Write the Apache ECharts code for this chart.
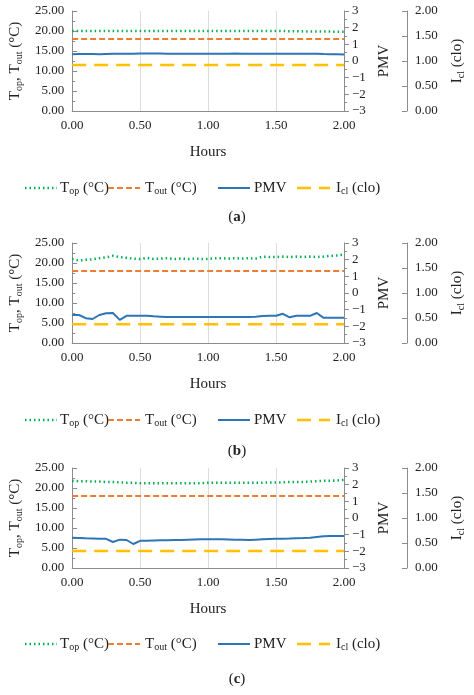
<!DOCTYPE html>
<html><head><meta charset="utf-8">
<script src="https://cdn.jsdelivr.net/npm/echarts@6/dist/echarts.min.js"></script>
<style>html,body{margin:0;background:#fff}#c{width:474px;height:695px}</style>
</head><body><div id="c"></div>
<script>
const hours = [0,0.05,0.1,0.15,0.2,0.25,0.3,0.35,0.4,0.45,0.5,0.55,0.6,0.65,0.7,0.75,0.8,0.85,0.9,0.95,1,1.05,1.1,1.15,1.2,1.25,1.3,1.35,1.4,1.45,1.5,1.55,1.6,1.65,1.7,1.75,1.8,1.85,1.9,1.95,2];
// panel a
const topA  = [20.0,20.0,20.0,20.0,20.0,20.0,20.0,20.0,20.0,20.0,20.0,20.0,20.0,20.0,20.0,20.0,20.0,20.0,20.0,20.0,20.0,20.0,20.0,20.0,20.0,20.0,20.0,20.0,20.0,20.0,20.0,20.0,19.95,19.95,19.9,19.9,19.9,19.85,19.85,19.8,19.8];
const toutA = [18,18,18,18,18,18,18,18,18,18,18,18,18,18,18,18,18,18,18,18,18,18,18,18,18,18,18,18,18,18,18,18,18,18,18,18,18,18,18,18,18];
const pmvA  = [0.41,0.42,0.42,0.42,0.41,0.42,0.43,0.44,0.44,0.44,0.45,0.45,0.45,0.45,0.44,0.44,0.44,0.44,0.44,0.44,0.44,0.44,0.44,0.44,0.45,0.44,0.44,0.44,0.44,0.44,0.44,0.44,0.44,0.44,0.44,0.44,0.44,0.42,0.41,0.40,0.39];
const iclA  = [0.92,0.92,0.92,0.92,0.92,0.92,0.92,0.92,0.92,0.92,0.92,0.92,0.92,0.92,0.92,0.92,0.92,0.92,0.92,0.92,0.92,0.92,0.92,0.92,0.92,0.92,0.92,0.92,0.92,0.92,0.92,0.92,0.92,0.92,0.92,0.92,0.92,0.92,0.92,0.92,0.92];
// panel b
const topB  = [21.0,20.6,20.8,20.9,21.2,21.4,21.8,21.5,21.3,21.1,21.0,21.3,21.0,21.1,21.2,21.0,21.1,21.0,21.1,21.0,21.0,21.2,21.2,21.1,21.2,21.1,21.2,21.1,21.6,21.5,21.5,21.6,21.5,21.6,21.5,21.6,21.5,21.6,21.8,21.9,22.1];
const toutB = [18,18,18,18,18,18,18,18,18,18,18,18,18,18,18,18,18,18,18,18,18,18,18,18,18,18,18,18,18,18,18,18,18,18,18,18,18,18,18,18,18];
const pmvB  = [-1.32,-1.32,-1.51,-1.56,-1.32,-1.22,-1.2,-1.61,-1.37,-1.37,-1.37,-1.37,-1.40,-1.42,-1.44,-1.44,-1.44,-1.44,-1.44,-1.44,-1.44,-1.44,-1.44,-1.44,-1.44,-1.44,-1.44,-1.42,-1.38,-1.37,-1.37,-1.25,-1.46,-1.37,-1.37,-1.37,-1.2,-1.49,-1.49,-1.49,-1.49];
const iclB  = [0.376,0.376,0.376,0.376,0.376,0.376,0.376,0.376,0.376,0.376,0.376,0.376,0.376,0.376,0.376,0.376,0.376,0.376,0.376,0.376,0.376,0.376,0.376,0.376,0.376,0.376,0.376,0.376,0.376,0.376,0.376,0.376,0.376,0.376,0.376,0.376,0.376,0.376,0.376,0.376,0.376];
// panel c
const topC  = [21.8,21.7,21.7,21.6,21.6,21.5,21.5,21.4,21.3,21.3,21.2,21.2,21.2,21.2,21.2,21.2,21.2,21.2,21.2,21.2,21.3,21.3,21.3,21.3,21.3,21.3,21.3,21.3,21.3,21.4,21.4,21.4,21.5,21.5,21.5,21.6,21.7,21.8,21.8,21.9,22.0];
const toutC = [18,18,18,18,18,18,18,18,18,18,18,18,18,18,18,18,18,18,18,18,18,18,18,18,18,18,18,18,18,18,18,18,18,18,18,18,18,18,18,18,18];
const pmvC  = [-1.18,-1.2,-1.22,-1.23,-1.25,-1.25,-1.44,-1.3,-1.32,-1.56,-1.37,-1.36,-1.35,-1.34,-1.33,-1.32,-1.32,-1.3,-1.29,-1.28,-1.27,-1.27,-1.28,-1.29,-1.3,-1.31,-1.32,-1.3,-1.28,-1.26,-1.25,-1.24,-1.23,-1.21,-1.2,-1.18,-1.14,-1.1,-1.08,-1.08,-1.08];
const iclC  = [0.34,0.34,0.34,0.34,0.34,0.34,0.34,0.34,0.34,0.34,0.34,0.34,0.34,0.34,0.34,0.34,0.34,0.34,0.34,0.34,0.34,0.34,0.34,0.34,0.34,0.34,0.34,0.34,0.34,0.34,0.34,0.34,0.34,0.34,0.34,0.34,0.34,0.34,0.34,0.34,0.34];
const panels = [[topA,toutA,pmvA,iclA],[topB,toutB,pmvB,iclB],[topC,toutC,pmvC,iclC]];
const legendTexts = ['{n|T}{s|op}{n| (°C)}','{n|T}{s|out}{n| (°C)}','{n|PMV}','{n|I}{s|cl}{n| (clo)}'];
const captions = ['a','b','c'];

const F = 'Liberation Serif';
const tops = [11, 243, 468];
const grey = '#8c8c8c';
const rich = {s:{fontSize:10, fontFamily:F, verticalAlign:'bottom', padding:[7,0,0,0], color:'#222'}, n:{fontSize:15, fontFamily:F, color:'#222'}};
const styles = [
  {color:'#00b050', width:2.5, type:[1.5,3], y:0},
  {color:'#ed7d31', width:2, type:[6,3], y:0},
  {color:'#2e75b6', width:2, type:'solid', y:1},
  {color:'#ffc000', width:2.5, type:[14,8], y:2}];
const legX = [[25,57,60],[108,140,145],[218,250,254],[297,330,336]];
const grid=[], xAxis=[], yAxis=[], series=[], graphic=[];
tops.forEach((t,i)=>{
  grid.push({left:63, top:t, width:284, height:100});
  xAxis.push({type:'value', gridIndex:i, min:0, max:2, interval:0.5,
    name:'Hours', nameLocation:'middle', nameGap:34, nameTextStyle:{fontFamily:F, fontSize:15, color:'#222'},
    axisLine:{lineStyle:{color:grey}}, axisTick:{show:false},
    axisLabel:{fontFamily:F, fontSize:13, color:'#222', formatter:v=>v.toFixed(2)},
    splitLine:{show:true, lineStyle:{color:'#dcdcdc'}}});
  yAxis.push({type:'value', gridIndex:i, min:0, max:25, interval:5,
    name:'{n|T}{s|op}{n|, T}{s|out}{n| (°C)}', nameLocation:'middle', nameGap:42, nameRotate:90, nameTextStyle:{rich},
    axisLine:{show:true, lineStyle:{color:grey}}, axisTick:{show:true, inside:true, lineStyle:{color:grey}},
    minorTick:{show:true, splitNumber:2, length:3, lineStyle:{color:grey}},
    axisLabel:{fontFamily:F, fontSize:13, color:'#222', formatter:v=>v.toFixed(2)}, splitLine:{show:false}});
  yAxis.push({type:'value', gridIndex:i, position:'right', min:-3, max:3, interval:1,
    name:'PMV', nameLocation:'middle', nameGap:30, nameRotate:90, nameTextStyle:{fontFamily:F, fontSize:15, color:'#222'},
    axisLine:{show:true, lineStyle:{color:grey}}, axisTick:{show:true, lineStyle:{color:grey}},
    minorTick:{show:true, splitNumber:2, length:3, lineStyle:{color:grey}},
    axisLabel:{fontFamily:F, fontSize:13, color:'#222', formatter:v=>String(v).replace('-','−')}, splitLine:{show:false}});
  yAxis.push({type:'value', gridIndex:i, position:'right', offset:63, min:0, max:2, interval:0.5,
    name:'{n|I}{s|cl}{n| (clo)}', nameLocation:'middle', nameGap:42, nameRotate:90, nameTextStyle:{rich},
    axisLine:{show:true, lineStyle:{color:grey}}, axisTick:{show:true, inside:true, lineStyle:{color:grey}},
    axisLabel:{fontFamily:F, fontSize:13, color:'#222', formatter:v=>v.toFixed(2)}, splitLine:{show:false}});
  const d = panels[i];
  styles.forEach((s,k)=>{
    series.push({type:'line', name:'s'+i+k, xAxisIndex:i, yAxisIndex:i*3+s.y, showSymbol:false, symbol:'none',
      lineStyle:{color:s.color, width:s.width, type:s.type}, itemStyle:{color:s.color},
      data:hours.map((h,j)=>[h,d[k][j]]), animation:false});
    const ly = [188,420,644][i];
    graphic.push({type:'line', shape:{x1:legX[k][0], y1:ly, x2:legX[k][1], y2:ly},
      style:{stroke:s.color, lineWidth:s.width, lineDash:Array.isArray(s.type)?s.type:null}});
    graphic.push({type:'text', x:legX[k][2], y:ly, style:{text:legendTexts[k], rich, verticalAlign:'middle', fontFamily:F, fontSize:15, fill:'#222'}});
  });
  graphic.push({type:'text', left:'center', top:[210,444,672][i],
    style:{text:'({b|'+captions[i]+'})', fontFamily:F, fontSize:15, fill:'#222', rich:{b:{fontWeight:'bold', fontFamily:F, fontSize:15}}}});
});
const chart = echarts.init(document.getElementById('c'));
chart.setOption({animation:false, grid, xAxis, yAxis, series, graphic});
</script></body></html>
